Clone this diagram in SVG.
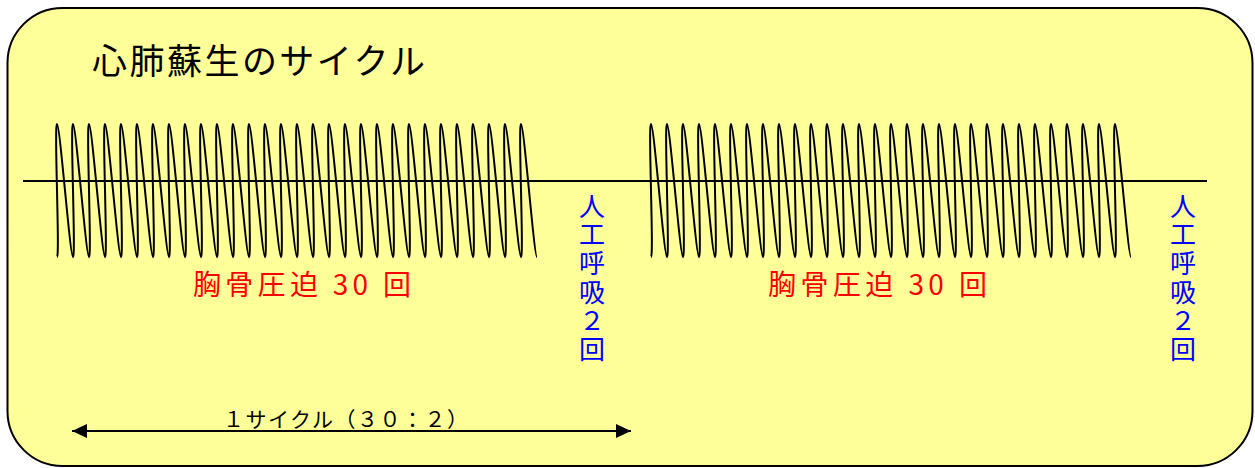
<svg xmlns="http://www.w3.org/2000/svg" width="1255" height="468" viewBox="0 0 1255 468">
<style>
.jp{font-family:"Noto Sans CJK JP","Noto Sans",sans-serif;font-weight:normal;}
.wave{fill:none;stroke:#000;stroke-width:2;stroke-linejoin:round;}
.red{fill:#FF0000;font-size:28px;}
.blue{fill:#0000FF;font-size:26px;writing-mode:vertical-rl;letter-spacing:2.6px;}
</style>
<defs>
<path id="burst" class="wave" d="M57,257 c3,0 -3,-133 0,-133
c3,0 13,133 16,133 c3,0 -3,-133 0,-133 c3,0 13,133 16,133 c3,0 -3,-133 0,-133 c3,0 13,133 16,133 c3,0 -3,-133 0,-133 c3,0 13,133 16,133 c3,0 -3,-133 0,-133 c3,0 13,133 16,133 c3,0 -3,-133 0,-133
c3,0 13,133 16,133 c3,0 -3,-133 0,-133 c3,0 13,133 16,133 c3,0 -3,-133 0,-133 c3,0 13,133 16,133 c3,0 -3,-133 0,-133 c3,0 13,133 16,133 c3,0 -3,-133 0,-133 c3,0 13,133 16,133 c3,0 -3,-133 0,-133
c3,0 13,133 16,133 c3,0 -3,-133 0,-133 c3,0 13,133 16,133 c3,0 -3,-133 0,-133 c3,0 13,133 16,133 c3,0 -3,-133 0,-133 c3,0 13,133 16,133 c3,0 -3,-133 0,-133 c3,0 13,133 16,133 c3,0 -3,-133 0,-133
c3,0 13,133 16,133 c3,0 -3,-133 0,-133 c3,0 13,133 16,133 c3,0 -3,-133 0,-133 c3,0 13,133 16,133 c3,0 -3,-133 0,-133 c3,0 13,133 16,133 c3,0 -3,-133 0,-133 c3,0 13,133 16,133 c3,0 -3,-133 0,-133
c3,0 13,133 16,133 c3,0 -3,-133 0,-133 c3,0 13,133 16,133 c3,0 -3,-133 0,-133 c3,0 13,133 16,133 c3,0 -3,-133 0,-133 c3,0 13,133 16,133 c3,0 -3,-133 0,-133 c3,0 13,133 16,133 c3,0 -3,-133 0,-133
c3,0 13,133 16,133 c3,0 -3,-133 0,-133 c3,0 13,133 16,133 c3,0 -3,-133 0,-133 c3,0 13,133 16,133 c3,0 -3,-133 0,-133 c3,0 13,133 16,133 c3,0 -3,-133 0,-133
c3,0 13,133 16,133"/>
<marker id="ah" viewBox="0 0 15 14" refX="15" refY="7" markerWidth="15" markerHeight="14" markerUnits="userSpaceOnUse" orient="auto-start-reverse">
<path d="M0,0 L15,7 L0,14 z" fill="#000"/>
</marker>
</defs>
<rect width="1255" height="468" fill="#fff"/>
<g id="panel">
<rect x="7.5" y="8" width="1245" height="458" rx="55" ry="55" fill="#FFFF99" stroke="#000" stroke-width="2"/>
</g>
<g id="title">
<text class="jp" x="92" y="74" font-size="35" textLength="333" lengthAdjust="spacing" fill="#000">心肺蘇生のサイクル</text>
</g>
<g id="compressions1">
<use href="#burst"/>
<text class="jp red" x="193" y="295" textLength="218" lengthAdjust="spacing">胸骨圧迫 30 回</text>
</g>
<g id="compressions2">
<use href="#burst" transform="translate(594,0)"/>
<text class="jp red" x="768" y="295" textLength="219" lengthAdjust="spacing">胸骨圧迫 30 回</text>
</g>
<g id="baseline">
<line x1="23" y1="181" x2="1207" y2="181" stroke="#000" stroke-width="2"/>
</g>
<g id="breaths1">
<text class="jp blue" x="592" y="193">人工呼吸２回</text>
</g>
<g id="breaths2">
<text class="jp blue" x="1183" y="193">人工呼吸２回</text>
</g>
<g id="connectors">
<line x1="72" y1="431" x2="631" y2="431" stroke="#000" stroke-width="1.8" marker-start="url(#ah)" marker-end="url(#ah)"/>
</g>
<g id="cycle-label">
<text class="jp" x="223" y="427" font-size="21" textLength="245" lengthAdjust="spacing" fill="#000">１サイクル（３０：２）</text>
</g>
</svg>
